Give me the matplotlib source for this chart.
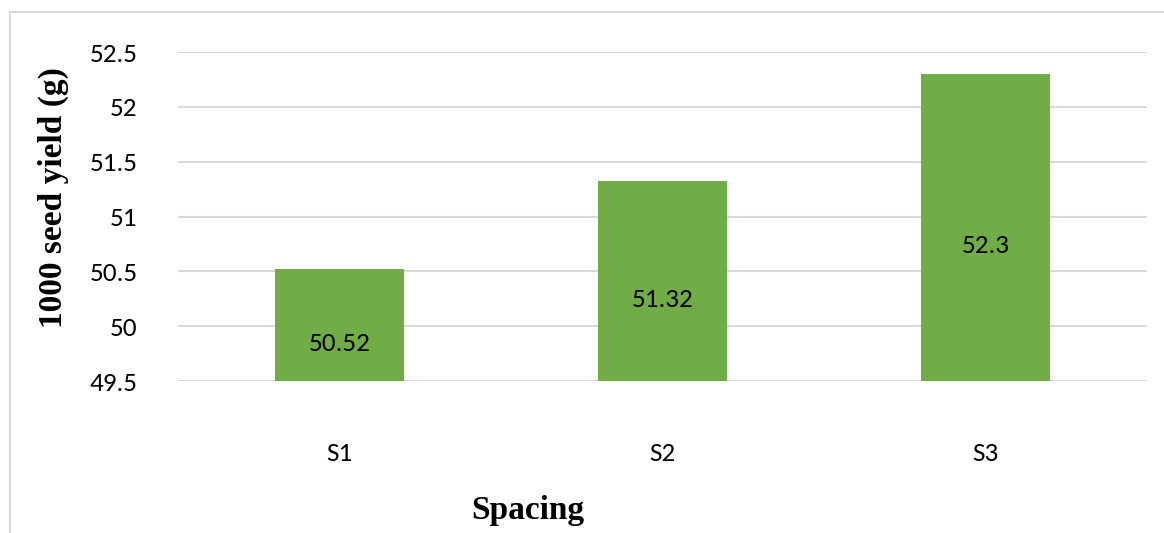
import matplotlib
matplotlib.use("Agg")
import matplotlib.pyplot as plt
from matplotlib.patches import Rectangle

categories = ["S1", "S2", "S3"]
values = [50.52, 51.32, 52.3]
yticks = [49.5, 50, 50.5, 51, 51.5, 52, 52.5]
ytick_labels = ["49.5", "50", "50.5", "51", "51.5", "52", "52.5"]

W, H = 1164, 533
fig = plt.figure(figsize=(W / 100, H / 100), dpi=100)
fig.patch.set_facecolor("white")

tick_font = ["Carlito", "Lato", "DejaVu Sans"]
title_font = ["Liberation Serif", "DejaVu Serif"]

ax = fig.add_axes([178 / W, 1 - 381 / H, (1147 - 178) / W, (381 - 52) / H])
x = list(range(len(categories)))
bars = ax.bar(x, values, width=0.4, color="#70AD47", bottom=0, zorder=3)
ax.set_xlim(-0.5, 2.5)
ax.set_ylim(49.5, 52.5)
ax.set_yticks(yticks)
ax.set_yticklabels(ytick_labels)
ax.set_xticks(x)
ax.set_xticklabels(categories)
for s in ax.spines.values():
    s.set_visible(False)
ax.grid(axis="y", color="#D9D9D9", linewidth=1.5, zorder=0)
ax.tick_params(axis="both", length=0, labelsize=19.5, labelcolor="#000000")
ax.tick_params(axis="y", pad=29)
ax.tick_params(axis="x", pad=44)
for lab in ax.get_xticklabels() + ax.get_yticklabels():
    lab.set_family(tick_font)

for xi, v in zip(x, values):
    ax.annotate(f"{v:g}", xy=(xi, (v + 49.5) / 2), xytext=(0, -13),
                textcoords="offset points", ha="center", va="center",
                fontsize=19.5, family=tick_font, color="#000000", zorder=4)

fig.text(53 / W, 1 - 198 / H, "1000 seed yield (g)", rotation=90, ha="center",
         va="center", fontsize=24, fontweight="bold", family=title_font)
fig.text(528 / W, 1 - 510 / H, "Spacing", ha="center", va="center",
         fontsize=24, fontweight="bold", family=title_font)

fig.patches.append(Rectangle((10 / W, -0.2), 1.2, 1.2 - 12 / H + 0.0,
                             transform=fig.transFigure, fill=False,
                             edgecolor="#D9D9D9", linewidth=1.5))

fig.savefig("out.png", dpi=100)
